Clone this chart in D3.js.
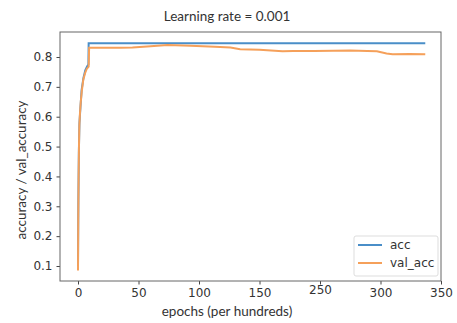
<!DOCTYPE html>
<html>
<head>
<meta charset="utf-8">
<script src="https://cdn.jsdelivr.net/npm/d3@7"></script>
<style>
  body { margin: 0; background: #fff; }
  svg { display: block; }
</style>
</head>
<body>
<svg id="svg" width="457" height="323"></svg>
<script>
// values
var accEpochs = [0, 0.3, 0.7, 1.2, 2, 3, 4.5, 6, 7.5, 8.6, 8.8, 40, 100, 160, 220, 287];
var accValues = [0.10, 0.32, 0.48, 0.58, 0.63, 0.69, 0.73, 0.755, 0.768, 0.775, 0.846, 0.846, 0.846, 0.846, 0.846, 0.846];

var valEpochs = [0, 0.2, 0.5, 0.8, 1.1, 1.6, 2.3, 3.1, 4.4, 6, 7.2, 8.8, 9.2, 20, 35, 45, 60, 74, 93, 113, 126, 134, 150, 169, 178, 195, 211, 225, 239, 247, 255, 260, 274, 287];
var valValues = [0.085, 0.25, 0.40, 0.50, 0.57, 0.61, 0.65, 0.685, 0.725, 0.748, 0.76, 0.768, 0.831, 0.831, 0.831, 0.832, 0.836, 0.840, 0.838, 0.834, 0.832, 0.826, 0.824, 0.819, 0.820, 0.820, 0.821, 0.822, 0.820, 0.819, 0.812, 0.809, 0.810, 0.809];

var xTicks = [0, 50, 100, 150, 200, 250, 300];
var xTickLabels = ['0', '50', '100', '150', '250', '300', '350'];
var yTicks = [0.1, 0.2, 0.3, 0.4, 0.5, 0.6, 0.7, 0.8];

var seriesNames = ['acc', 'val_acc'];
var seriesColors = ['#4a8ec8', '#f5a05a'];

var width = 457, height = 323;
var margin = {left: 60, right: 16, top: 32, bottom: 42};

var svg = d3.select('svg');

var x = d3.scaleLinear()
    .domain([-14.88, 300])
    .range([margin.left, width - margin.right]);

var y = d3.scaleLinear()
    .domain([0.0498, 0.8837])
    .range([height - margin.bottom, margin.top]);

// axes
var xAxis = svg.append('g')
    .attr('transform', 'translate(0,' + (height - margin.bottom) + ')')
    .call(d3.axisBottom(x)
        .tickValues(xTicks)
        .tickSize(3.5)
        .tickPadding(4)
        .tickFormat(function(d, i){ return xTickLabels[i]; }));

var yAxis = svg.append('g')
    .attr('transform', 'translate(' + margin.left + ',0)')
    .call(d3.axisLeft(y)
        .tickValues(yTicks)
        .tickSize(3.5)
        .tickPadding(4)
        .tickFormat(d3.format('.1f')));

[xAxis, yAxis].forEach(function(ax){
    ax.select('.domain').remove();
    ax.selectAll('line').attr('stroke', '#444');
    ax.selectAll('text')
        .attr('fill', '#333')
        .style('font-family', 'DejaVu Sans')
        .style('font-size', '12px');
});
// the "250" label sits a little higher in the picture
xAxis.selectAll('text').filter(function(d, i){ return i == 4; }).attr('dy', '0.45em');

// lines
var line = d3.line()
    .x(function(d){ return x(d[0]); })
    .y(function(d){ return y(d[1]); });

var accData = accEpochs.map(function(e, i){ return [e, accValues[i]]; });
var valData = valEpochs.map(function(e, i){ return [e, valValues[i]]; });

svg.append('path')
    .datum(accData)
    .attr('d', line)
    .attr('fill', 'none')
    .attr('stroke', seriesColors[0])
    .attr('stroke-width', 2);

svg.append('path')
    .datum(valData)
    .attr('d', line)
    .attr('fill', 'none')
    .attr('stroke', seriesColors[1])
    .attr('stroke-width', 2);

// frame
svg.append('rect')
    .attr('x', margin.left)
    .attr('y', margin.top)
    .attr('width', width - margin.left - margin.right)
    .attr('height', height - margin.top - margin.bottom)
    .attr('fill', 'none')
    .attr('stroke', '#666')
    .attr('stroke-width', 1);

// legend
var legend = svg.append('g').attr('transform', 'translate(354,236)');
legend.append('rect')
    .attr('width', 84)
    .attr('height', 40)
    .attr('rx', 2)
    .attr('fill', '#fff')
    .attr('stroke', '#ddd');

seriesNames.forEach(function(name, i){
    legend.append('line')
        .attr('x1', 4).attr('x2', 28)
        .attr('y1', 9 + i * 18).attr('y2', 9 + i * 18)
        .attr('stroke', seriesColors[i])
        .attr('stroke-width', 2);
    legend.append('text')
        .attr('x', 36)
        .attr('y', 13 + i * 18)
        .attr('fill', '#333')
        .style('font-family', 'DejaVu Sans')
        .style('font-size', '12px')
        .text(name);
});

// titles
svg.append('text')
    .attr('x', 227)
    .attr('y', 21)
    .attr('text-anchor', 'middle')
    .attr('fill', '#333')
    .style('font-family', 'Lato')
    .style('font-size', '13.5px')
    .text('Learning rate = 0.001');

svg.append('text')
    .attr('x', 227)
    .attr('y', 316)
    .attr('text-anchor', 'middle')
    .attr('fill', '#333')
    .style('font-family', 'Lato')
    .style('font-size', '13.5px')
    .text('epochs (per hundreds)');

svg.append('text')
    .attr('transform', 'translate(26,170) rotate(-90)')
    .attr('text-anchor', 'middle')
    .attr('fill', '#333')
    .style('font-family', 'Lato')
    .style('font-size', '13.5px')
    .text('accuracy / val_accuracy');
</script>
</body>
</html>
